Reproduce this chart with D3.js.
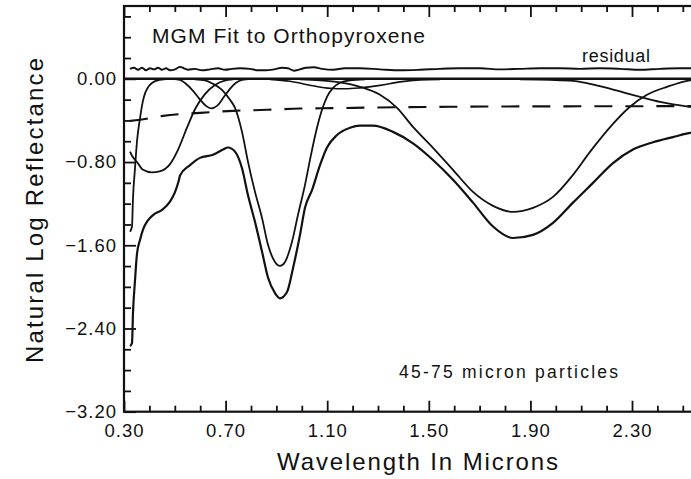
<!DOCTYPE html>
<html><head><meta charset="utf-8">
<script src="https://cdn.jsdelivr.net/npm/d3@7/dist/d3.min.js"></script>
<style>
html,body{margin:0;padding:0;background:#fff;}
svg{display:block;}
text{font-family:"Liberation Sans",Arial,Helvetica,sans-serif;fill:#111;}
</style></head>
<body>
<svg id="chart" width="691" height="479"></svg>
<script>
// ---- axis ticks ----
const xMajorTicks = [0.3, 0.7, 1.1, 1.5, 1.9, 2.3, 2.7];
const xMajorLabels = ["0.30", "0.70", "1.10", "1.50", "1.90", "2.30", ""];
const xMinorTicks = [0.4, 0.5, 0.6, 0.8, 0.9, 1.0, 1.2, 1.3, 1.4, 1.6, 1.7, 1.8, 2.0, 2.1, 2.2, 2.4, 2.5, 2.6];
const yMajorTicks = [0, -0.8, -1.6, -2.4, -3.2];
const yMajorLabels = ["0.00", "\u22120.80", "\u22121.60", "\u22122.40", "\u22123.20"];
const yMinorTicks = [0.6, 0.4, 0.2, -0.2, -0.4, -0.6, -1.0, -1.2, -1.4, -1.8, -2.0, -2.2, -2.6, -2.8, -3.0];

// ---- series: [wavelength (microns), natural log reflectance] ----
const spectrum = [[0.324,-2.57],[0.3315,-2.54],[0.3354,-2.25],[0.3433,-1.94],[0.3512,-1.68],[0.363,-1.55],[0.3748,-1.45],[0.3945,-1.36],[0.4142,-1.31],[0.4496,-1.26],[0.4811,-1.18],[0.5008,-1.09],[0.5165,-0.97],[0.5205,-0.93],[0.5598,-0.83],[0.5992,-0.76],[0.6504,-0.73],[0.6898,-0.68],[0.7094,-0.66],[0.737,-0.70],[0.7646,-0.86],[0.7882,-1.12],[0.8157,-1.375],[0.8433,-1.66],[0.8669,-1.91],[0.8945,-2.06],[0.9142,-2.11],[0.9417,-2.05],[0.9654,-1.82],[0.9929,-1.50],[1.0126,-1.24],[1.0402,-1.07],[1.0717,-0.83],[1.0992,-0.66],[1.1386,-0.54],[1.1898,-0.47],[1.2291,-0.45],[1.2803,-0.45],[1.3591,-0.51],[1.4378,-0.62],[1.5165,-0.78],[1.5953,-0.97],[1.674,-1.19],[1.7528,-1.42],[1.8315,-1.53],[1.9102,-1.50],[1.989,-1.385],[2.0677,-1.19],[2.1465,-1.00],[2.2252,-0.81],[2.3039,-0.68],[2.3827,-0.61],[2.4614,-0.56],[2.5283,-0.52],[2.5677,-0.51]];

const continuum = [[0.3236,-0.404],[0.363,-0.394],[0.4535,-0.356],[0.5992,-0.327],[0.7291,-0.308],[0.863,-0.298],[0.9929,-0.286],[1.1228,-0.282],[1.2803,-0.276],[1.5835,-0.269],[1.7803,-0.266],[2.174,-0.264],[2.5677,-0.262]];

const bandUV = [[0.3236,-1.47],[0.3315,-1.42],[0.3354,-1.15],[0.3433,-0.86],[0.3512,-0.60],[0.363,-0.38],[0.3748,-0.21],[0.3827,-0.14],[0.395,-0.08],[0.41,-0.04],[0.44,-0.01],[0.48,0]];

const bandVisA = [[0.3236,-0.70],[0.3315,-0.74],[0.3512,-0.80],[0.3748,-0.875],[0.41,-0.90],[0.44,-0.89],[0.4811,-0.82],[0.513,-0.68],[0.548,-0.47],[0.58,-0.29],[0.618,-0.15],[0.658,-0.06],[0.70,-0.015],[0.75,0]];

const bandVisB = [[0.49,0],[0.5205,-0.01],[0.540,-0.04],[0.5717,-0.115],[0.5992,-0.20],[0.6228,-0.26],[0.6425,-0.284],[0.6661,-0.26],[0.6937,-0.173],[0.7173,-0.096],[0.741,-0.038],[0.7646,-0.01],[0.80,0]];

const band1um = [[0.5795,-0.005],[0.6189,-0.014],[0.6504,-0.048],[0.6858,-0.106],[0.7173,-0.202],[0.737,-0.279],[0.7646,-0.51],[0.7882,-0.798],[0.8157,-1.087],[0.8433,-1.337],[0.8669,-1.596],[0.8945,-1.76],[0.9142,-1.798],[0.9339,-1.76],[0.9614,-1.567],[0.985,-1.308],[1.0126,-1.019],[1.0362,-0.731],[1.0598,-0.471],[1.0795,-0.298],[1.0992,-0.173],[1.1228,-0.087],[1.1504,-0.038],[1.1898,-0.014],[1.2488,-0.005]];

const band12um = [[0.8748,-0.005],[0.9535,-0.024],[1.0441,-0.067],[1.111,-0.091],[1.17,-0.096],[1.2291,-0.087],[1.3079,-0.063],[1.3866,-0.029],[1.4654,-0.01],[1.5441,-0.005]];

const band2um = [[0.9929,-0.005],[1.0717,-0.014],[1.1504,-0.034],[1.2291,-0.077],[1.3079,-0.154],[1.3748,-0.279],[1.4378,-0.462],[1.5165,-0.663],[1.5953,-0.875],[1.674,-1.087],[1.7528,-1.221],[1.8315,-1.279],[1.9102,-1.24],[1.989,-1.135],[2.0677,-0.923],[2.1346,-0.702],[2.2252,-0.433],[2.2921,-0.269],[2.3591,-0.154],[2.4378,-0.077],[2.5283,-0.014],[2.5677,-0.005]];

const bandLong = [[1.859,-0.005],[1.977,-0.01],[2.0677,-0.019],[2.1346,-0.048],[2.2016,-0.087],[2.2724,-0.135],[2.3315,-0.173],[2.4102,-0.221],[2.5283,-0.269],[2.5677,-0.284]];

const residual = [[0.3236,0.096],[0.3394,0.106],[0.3551,0.087],[0.3709,0.106],[0.3866,0.082],[0.4024,0.101],[0.4181,0.091],[0.4339,0.106],[0.4496,0.087],[0.4654,0.101],[0.4811,0.082],[0.5008,0.091],[0.5205,0.115],[0.5362,0.101],[0.552,0.087],[0.5795,0.096],[0.6071,0.082],[0.6386,0.091],[0.6701,0.101],[0.6976,0.087],[0.7252,0.096],[0.7567,0.101],[0.7961,0.096],[0.8276,0.082],[0.8591,0.082],[0.8906,0.091],[0.922,0.106],[0.9457,0.101],[0.9693,0.077],[0.9929,0.091],[1.0165,0.106],[1.048,0.111],[1.0795,0.096],[1.1228,0.087],[1.1701,0.101],[1.2291,0.101],[1.3079,0.091],[1.3866,0.082],[1.4654,0.087],[1.5441,0.096],[1.6228,0.101],[1.7016,0.101],[1.7803,0.091],[1.859,0.096],[1.9378,0.101],[2.0165,0.101],[2.0953,0.096],[2.174,0.101],[2.2528,0.096],[2.3315,0.087],[2.4102,0.096],[2.489,0.101],[2.5677,0.101]];

const zeroLine = [[0.3, 0], [2.7, 0]];

// ---- scales ----
const svg = d3.select("#chart");
const x = d3.scaleLinear().domain([0.3, 2.7]).range([124, 733.6]);
const y = d3.scaleLinear().domain([-3.2, 0.7]).range([411.7, 6]);

svg.append("clipPath").attr("id", "plotclip").append("rect")
  .attr("x", x(0.3)).attr("y", y(0.7)).attr("width", x(2.7) - x(0.3)).attr("height", y(-3.2) - y(0.7));

const line = d3.line().x(d => x(d[0])).y(d => y(d[1])).curve(d3.curveMonotoneX);
const g = svg.append("g").attr("clip-path", "url(#plotclip)");

function draw(data, w, dash) {
  const p = g.append("path").attr("d", line(data)).attr("fill", "none")
    .attr("stroke", "#111").attr("stroke-width", w).attr("stroke-linejoin", "round");
  if (dash) p.attr("stroke-dasharray", dash);
}
draw(zeroLine, 2.4);
draw(residual, 1.9);
draw(continuum, 2.1, "18,13");
draw(bandUV, 1.8);
draw(bandVisA, 1.8);
draw(bandVisB, 1.8);
draw(band1um, 1.8);
draw(band12um, 1.6);
draw(band2um, 1.8);
draw(bandLong, 1.8);
draw(spectrum, 2.2);

// ---- axes (ticks point inward) ----
const tickFont = g2 => g2.selectAll("text").style("font-size", "18.5px").style("letter-spacing", "1px")
  .style("font-family", '"Liberation Sans", Arial, sans-serif').attr("fill", "#111");
const clean = g2 => { g2.select(".domain").remove(); g2.selectAll("line").attr("stroke", "#111").attr("stroke-width", 1.8); };

svg.append("g").attr("transform", `translate(0,${y(-3.2)})`)
  .call(d3.axisBottom(x).tickValues(xMajorTicks).tickSize(-11).tickPadding(12)
    .tickFormat((d, i) => xMajorLabels[i]))
  .call(clean).call(tickFont);
svg.append("g").attr("transform", `translate(0,${y(-3.2)})`)
  .call(d3.axisBottom(x).tickValues(xMinorTicks).tickSize(-6).tickFormat(""))
  .call(clean);
svg.append("g").attr("transform", `translate(0,${y(0.7)})`)
  .call(d3.axisTop(x).tickValues(xMajorTicks).tickSize(-11).tickFormat(""))
  .call(clean);
svg.append("g").attr("transform", `translate(0,${y(0.7)})`)
  .call(d3.axisTop(x).tickValues(xMinorTicks).tickSize(-6).tickFormat(""))
  .call(clean);
svg.append("g").attr("transform", `translate(${x(0.3)},0)`)
  .call(d3.axisLeft(y).tickValues(yMajorTicks).tickSize(-12).tickPadding(7)
    .tickFormat((d, i) => yMajorLabels[i]))
  .call(clean).call(tickFont);
svg.append("g").attr("transform", `translate(${x(0.3)},0)`)
  .call(d3.axisLeft(y).tickValues(yMinorTicks).tickSize(-7).tickFormat(""))
  .call(clean);

// frame
svg.append("rect").attr("x", x(0.3)).attr("y", y(0.7))
  .attr("width", x(2.7) - x(0.3)).attr("height", y(-3.2) - y(0.7))
  .attr("fill", "none").attr("stroke", "#111").attr("stroke-width", 2.2);

// ---- texts ----
svg.append("text").attr("x", 152).attr("y", 43).style("font-size", "21px")
  .attr("textLength", 273).attr("lengthAdjust", "spacing").text("MGM Fit to Orthopyroxene");
svg.append("text").attr("x", 582).attr("y", 61.5).style("font-size", "18px")
  .attr("textLength", 68).attr("lengthAdjust", "spacing").text("residual");
svg.append("text").attr("x", 399).attr("y", 378).style("font-size", "17.5px")
  .attr("textLength", 219).attr("lengthAdjust", "spacing").text("45-75 micron particles");
svg.append("text").attr("x", 277).attr("y", 470).style("font-size", "24px")
  .attr("textLength", 281).attr("lengthAdjust", "spacing").text("Wavelength In Microns");
svg.append("text").attr("transform", "translate(43,363) rotate(-90)").style("font-size", "24px")
  .attr("textLength", 305).attr("lengthAdjust", "spacing").text("Natural Log Reflectance");
</script>
</body></html>
